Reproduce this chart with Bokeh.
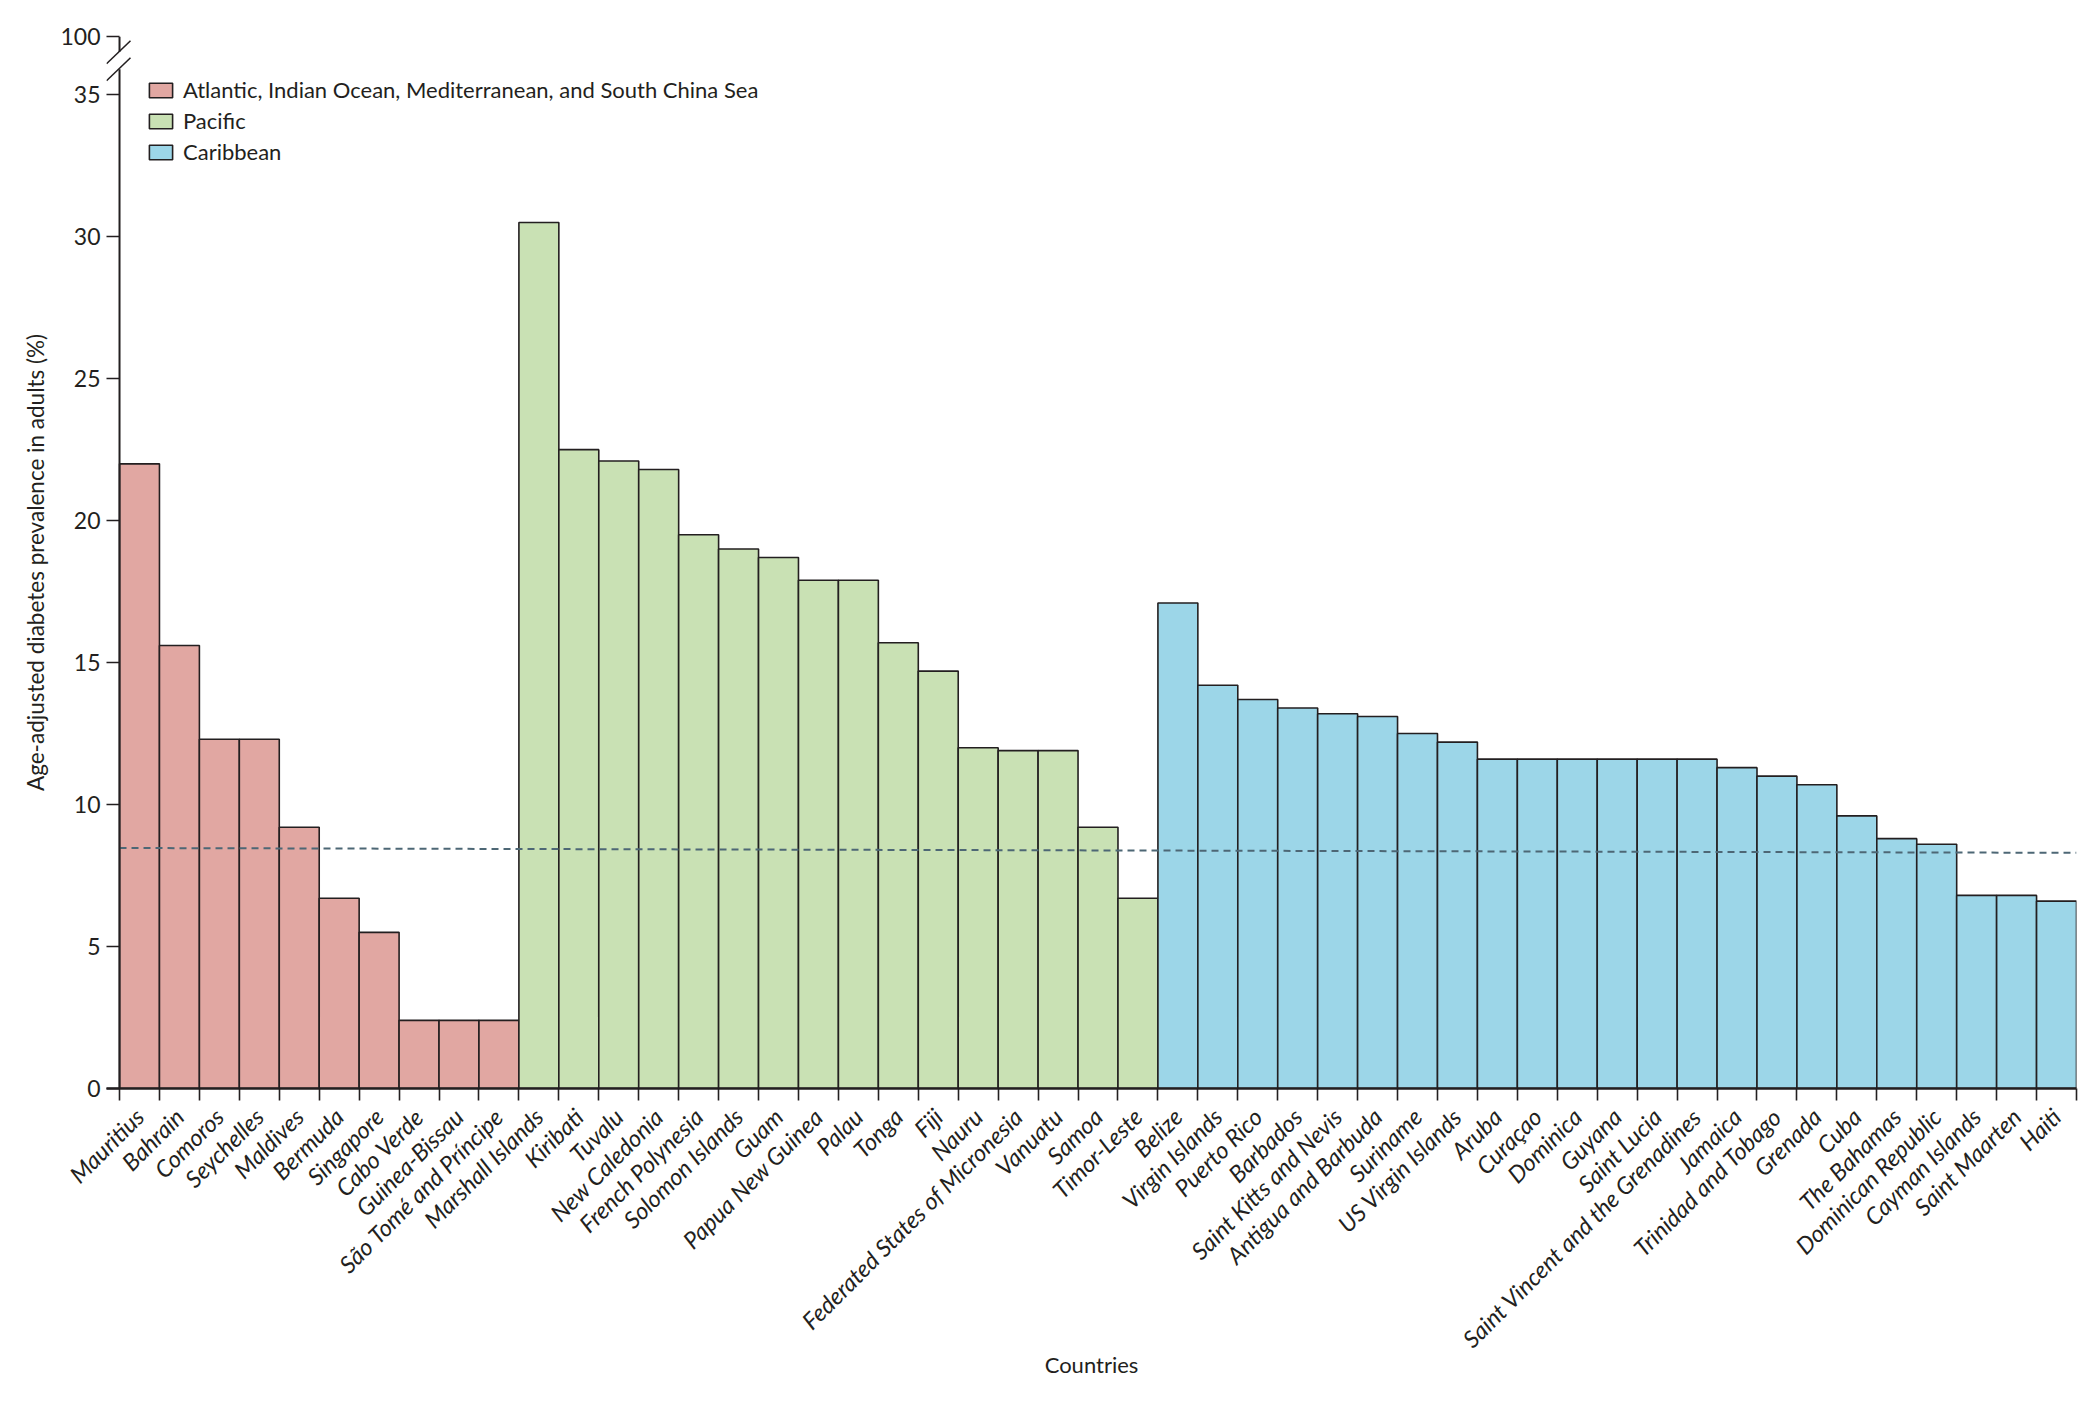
import math
from bokeh.plotting import figure
from bokeh.models import FixedTicker, ColumnDataSource, Legend, LegendItem
from bokeh.embed import file_html
from bokeh.resources import INLINE

# ---------------- data ----------------
region_names = [
    "Atlantic, Indian Ocean, Mediterranean, and South China Sea",
    "Pacific",
    "Caribbean",
]
region_colors = ["#E1A7A2", "#C9E1B4", "#9CD6E8"]

atlantic_countries = [
    "Mauritius", "Bahrain", "Comoros", "Seychelles", "Maldives", "Bermuda",
    "Singapore", "Cabo Verde", "Guinea-Bissau", "São Tomé and Príncipe",
]
atlantic_values = [22.0, 15.6, 12.3, 12.3, 9.2, 6.7, 5.5, 2.4, 2.4, 2.4]

pacific_countries = [
    "Marshall Islands", "Kiribati", "Tuvalu", "New Caledonia", "French Polynesia",
    "Solomon Islands", "Guam", "Papua New Guinea", "Palau", "Tonga", "Fiji",
    "Nauru", "Federated States of Micronesia", "Vanuatu", "Samoa", "Timor-Leste",
]
pacific_values = [30.5, 22.5, 22.1, 21.8, 19.5, 19.0, 18.7, 17.9, 17.9, 15.7,
                  14.7, 12.0, 11.9, 11.9, 9.2, 6.7]

caribbean_countries = [
    "Belize", "Virgin Islands", "Puerto Rico", "Barbados", "Saint Kitts and Nevis",
    "Antigua and Barbuda", "Suriname", "US Virgin Islands", "Aruba", "Curaçao",
    "Dominica", "Guyana", "Saint Lucia", "Saint Vincent and the Grenadines",
    "Jamaica", "Trinidad and Tobago", "Grenada", "Cuba", "The Bahamas",
    "Dominican Republic", "Cayman Islands", "Saint Maarten", "Haiti",
]
caribbean_values = [17.1, 14.2, 13.7, 13.4, 13.2, 13.1, 12.5, 12.2, 11.6, 11.6,
                    11.6, 11.6, 11.6, 11.6, 11.3, 11.0, 10.7, 9.6, 8.8, 8.6,
                    6.8, 6.8, 6.6]

y_ticks = [0, 5, 10, 15, 20, 25, 30, 35]
y_top_tick_label = "100"
reference_line = [8.47, 8.30]   # dashed reference line (left end, right end)

x_title = "Countries"
y_title = "Age-adjusted diabetes prevalence in adults (%)"

# ---------------- layout ----------------
FONT = "Lato"
INK = "#231f20"
groups = [
    (region_names[0], region_colors[0], atlantic_countries, atlantic_values),
    (region_names[1], region_colors[1], pacific_countries, pacific_values),
    (region_names[2], region_colors[2], caribbean_countries, caribbean_values),
]
all_countries = atlantic_countries + pacific_countries + caribbean_countries
n = len(all_countries)

left_pad = 0.326          # room left of the y axis line for ticks / break marks
y_top = 37.05
y_top_tick = 37.04

p = figure(
    width=2092, height=1398,
    x_range=(-0.5 - left_pad, n - 0.5), y_range=(0, y_top),
    output_backend="svg", toolbar_location=None,
    min_border_left=106, min_border_right=16, min_border_top=36, min_border_bottom=310,
)
p.outline_line_color = None
p.xgrid.visible = False
p.ygrid.visible = False
p.background_fill_color = "white"

legend_items = []
start = 0
for name, color, countries, vals in groups:
    xs = list(range(start, start + len(countries)))
    src = ColumnDataSource(dict(x=xs, top=vals, name=countries))
    r = p.vbar(x="x", top="top", width=1.0, source=src, fill_color=color,
               line_color=INK, line_width=1.6)
    legend_items.append(LegendItem(label=name, renderers=[r]))
    start += len(countries)

# dashed reference line
p.line(x=[-0.5, n - 0.5], y=reference_line, line_color="#4d6775",
       line_width=2, line_dash="7 5")

# y axis line with break
y_lower_end = 35.90
y_upper_start = 36.51
p.segment(x0=[-0.5, -0.5], y0=[0, y_upper_start], x1=[-0.5, -0.5], y1=[y_lower_end, y_top],
          line_color=INK, line_width=2)
p.segment(x0=[-0.5 - left_pad, -0.5 - left_pad], y0=[36.09, 35.49],
          x1=[-0.225, -0.225], y1=[36.90, 36.30], line_color=INK, line_width=1.6)

# x axis
xa = p.xaxis[0]
xa.ticker = FixedTicker(ticks=list(range(n)), minor_ticks=[i - 0.5 for i in range(n + 1)])
xa.major_label_overrides = {i: c for i, c in enumerate(all_countries)}
xa.major_label_orientation = math.pi / 4
xa.major_label_text_font = FONT
xa.major_label_text_font_style = "italic"
xa.major_label_text_font_size = "23.5px"
xa.major_label_text_color = INK
xa.major_tick_out = 0
xa.major_tick_in = 0
xa.minor_tick_out = 12
xa.minor_tick_in = 0
xa.minor_tick_line_color = INK
xa.minor_tick_line_width = 1.6
xa.axis_line_color = INK
xa.axis_line_width = 2.5
xa.major_label_standoff = 12
xa.axis_label = x_title
xa.axis_label_text_font = FONT
xa.axis_label_text_font_style = "normal"
xa.axis_label_text_font_size = "22px"
xa.axis_label_text_color = INK
xa.axis_label_standoff = -15

# y axis
ya = p.yaxis[0]
ya.ticker = FixedTicker(ticks=y_ticks + [y_top_tick])
ya.major_label_overrides = {y_top_tick: y_top_tick_label}
ya.major_tick_out = 0
ya.major_tick_in = 13
ya.minor_tick_out = 0
ya.minor_tick_in = 0
ya.major_tick_line_color = INK
ya.major_tick_line_width = 1.6
ya.axis_line_color = None
ya.major_label_standoff = 6
ya.major_label_text_font = FONT
ya.major_label_text_font_size = "23px"
ya.major_label_text_color = INK
ya.axis_label = y_title
ya.axis_label_text_font = FONT
ya.axis_label_text_font_style = "normal"
ya.axis_label_text_font_size = "22.5px"
ya.axis_label_text_color = INK
ya.axis_label_standoff = 8

legend = Legend(items=legend_items, location="top_left")
legend.margin = 40
legend.padding = 0
legend.spacing = 4
legend.glyph_width = 29
legend.glyph_height = 18
legend.label_standoff = 8
legend.label_text_font = FONT
legend.label_text_font_size = "22px"
legend.label_text_color = INK
legend.background_fill_alpha = 0
legend.border_line_alpha = 0
p.add_layout(legend)

open("out.html", "w").write(file_html(p, INLINE))
